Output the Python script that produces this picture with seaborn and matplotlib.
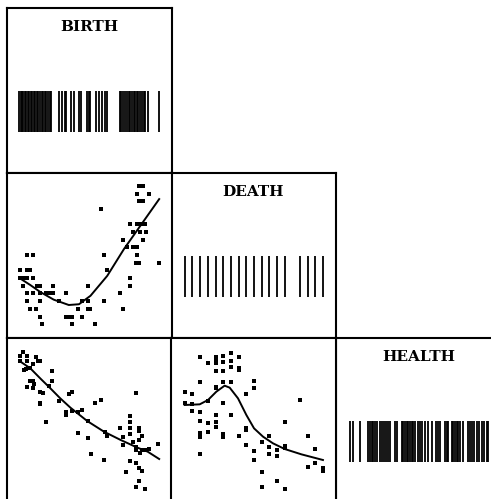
import numpy as np
import pandas as pd
import matplotlib
matplotlib.use("Agg")
import matplotlib.pyplot as plt
import seaborn as sns

# ---- data ----
# BIRTH vs DEATH scatter
bd_birth = [45.2, 46.4, 44.4, 48.3, 45.2, 46.4, 33.5, 42.5, 44.5, 45.7, 47.0,
            43.4, 45.4, 47.3, 40.4, 46.4, 41.4, 43.2, 44.4,
            11, 13, 34.5, 44.4, 44.2, 45.2, 51.1, 9, 11, 12, 35.5,
            9, 10, 11, 13, 42.4, 10, 14.1, 14.9, 18.9, 29.6, 42.4,
            11, 13, 14.9, 16.9, 17.9, 18.9, 22.9, 39.4,
            11, 14.9, 20.8, 27.7, 29.6, 34.5,
            12, 13.9, 26.7, 29.6, 30.4, 40.4,
            14.9, 22.9, 23.9, 24.7, 27.7, 15.8, 24.7, 31.7]
bd_death = [22, 22, 21, 21, 20, 20, 19, 17, 17, 17, 17,
            16, 16, 16, 15, 15, 14, 14, 14,
            13, 13, 13, 13, 12, 12, 12, 11, 11, 11, 11,
            10, 10, 10, 10, 10, 9, 9, 9, 9, 9, 9,
            8, 8, 8, 8, 8, 8, 8, 8,
            7, 7, 7, 7, 7, 7,
            6, 6, 6, 6, 6, 6,
            5, 5, 5, 5, 5, 4, 4, 4]
bd_fit_birth = [9.2, 12.1, 15.1, 19.2, 23.8, 26.9, 30.4, 35.5, 40.6, 45.7, 51.3]
bd_fit_death = [9.9, 9.1, 8.2, 7.2, 6.5, 6.6, 7.7, 10.3, 13.8, 16.9, 20.3]

# BIRTH vs HEALTH scatter
bh_birth = [10.0, 9.0, 11.0, 13.9, 9.0, 11.0, 14.3, 15.1, 12.9, 11.9, 10.2, 10.8,
            11.3, 18.7, 12.1, 12.9, 18.7, 13.1, 11.0, 12.9, 17.7, 14.9, 15.9,
            14.9, 14.9, 23.8, 24.8, 20.7, 31.7, 33.5, 44.2, 22.8, 22.8, 24.8,
            26.7, 27.7, 29.6, 16.9, 26.6, 29.6, 30.6, 34.5, 35.3, 34.7, 39.4,
            42.4, 42.4, 42.4, 40.4, 40.3, 42.4, 43.2, 44.2, 45.2, 45.2, 46.2,
            45.2, 44.2, 46.2, 47.1, 48.3, 51.0, 45.5, 44.2, 45.2, 42.5, 41.2,
            46.2, 45.2, 44.2, 47.1]
bh_health = [90.4, 88.2, 88.2, 87.6, 85.4, 85.4, 85.0, 85.0, 83.6, 80.8, 79.6, 80.2,
             80.8, 79.2, 73.4, 73.4, 73.2, 71.4, 69.4, 68.8, 70.4, 66.4, 65.8,
             60.2, 59.4, 65.2, 66.4, 61.2, 60.2, 61.8, 65.8, 54.8, 52.8, 55.2,
             54.8, 55.6, 49.2, 48.4, 41.8, 39.2, 29.2, 25.8, 40.4, 42.8, 45.2,
             52.4, 48.8, 45.2, 39.8, 34.8, 41.2, 36.4, 33.8, 45.2, 43.2, 40.4,
             37.8, 31.8, 31.8, 31.8, 32.4, 35.2, 29.8, 23.8, 21.2, 25.2, 18.6,
             19.2, 13.4, 9.8, 8.2]
bh_fit_birth = [8.8, 12.1, 15.1, 18.2, 21.2, 24.3, 29.4, 34.5, 39.6, 44.7, 47.8, 51.3]
bh_fit_health = [85.2, 80.8, 74.8, 68.8, 62.8, 57.2, 49.2, 42.8, 37.8, 33.2, 30.8, 26.4]

# DEATH vs HEALTH scatter
dh_death = [4, 4, 5, 5, 5, 6, 6, 6, 6, 6, 6, 6, 7, 7, 7, 7,
            8, 8, 8, 8, 8, 8, 8, 8, 8, 9, 9, 9, 9, 9, 9, 9,
            10, 10, 10, 10, 10, 11, 11, 11, 11, 12, 12, 12, 12,
            13, 13, 13, 13, 14, 14, 14, 15, 15, 15, 16, 16, 16,
            17, 17, 17, 17, 19, 20, 20, 21, 21, 22, 22]
dh_health = [66.4, 60.2, 65.2, 59.6, 55.2, 87.4, 72.8, 54.8, 49.4, 41.8, 39.8, 29.2,
             84.2, 61.2, 48.2, 42.8,
             87.8, 85.2, 83.8, 79.2, 69.8, 68.8, 52.8, 48.4, 45.4,
             88.4, 84.8, 79.2, 72.8, 60.2, 41.2, 39.8,
             90.2, 85.2, 81.4, 72.8, 52.8, 87.8, 80.8, 79.8, 40.4,
             65.6, 45.2, 43.8, 34.8, 73.4, 69.2, 31.2, 25.8,
             36.4, 18.4, 9.4, 40.4, 33.8, 29.2, 31.8, 28.2, 13.4,
             48.8, 34.4, 33.2, 8.2, 61.8, 40.4, 21.6, 32.2, 23.8, 21.2, 19.2]
dh_fit_death = [3.98, 5.94, 7.02, 8.11, 9.19, 9.85, 10.93, 12.02, 13.02, 14.19,
                15.49, 17.01, 19.19, 22.0]
dh_fit_health = [58.8, 59.2, 61.8, 66.8, 70.4, 69.2, 62.8, 52.8, 44.8, 39.8,
                 35.8, 32.4, 29.2, 25.8]

# rug values on the diagonal
birth_rug = [8.7, 9.2, 9.6, 10.0, 10.5, 10.9, 11.3, 11.8, 12.2, 12.7, 13.1, 13.6,
             14.0, 14.5, 15.0, 15.5, 16.0, 16.5, 17.0, 17.5, 18.0, 18.5,
             20.7, 21.8, 22.5, 23.1, 24.5, 25.3, 26.9, 27.6, 29.4, 29.9, 30.4,
             32.0, 33.0, 34.0, 34.7, 35.3,
             39.4, 39.8, 40.3, 40.8, 41.4, 42.0, 42.5, 43.0, 43.5, 44.0, 44.5,
             45.0, 45.5, 46.0, 46.6, 47.1, 47.8, 51.1]
death_rug = [4, 5, 6, 7, 8, 9, 10, 11, 12, 13, 14, 15, 16, 17, 19, 20, 21, 22]
health_rug = [8.4, 10.4, 14.4, 19.4, 20.4, 21.4, 22.4, 23.4, 24.4, 26.4, 27.4,
              28.8, 29.8, 31.4, 32.4, 35.4, 36.4, 39.4, 40.4, 41.4, 42.4, 43.4,
              44.4, 45.4, 46.4, 47.4, 49.0, 50.4, 51.4, 53.4, 55.0, 57.4, 59.8,
              61.0, 62.4, 65.4, 66.4, 67.4, 69.4, 70.4, 71.4, 72.4, 73.4, 74.4,
              76.4, 79.4, 80.4, 81.4, 83.0, 84.4, 85.8, 87.4, 89.0, 90.4, 91.4]

names = ["BIRTH", "DEATH", "HEALTH"]
limits = {"BIRTH": (5.0, 55.2), "DEATH": (2.2, 23.7), "HEALTH": (0, 99)}
rugs = {"BIRTH": birth_rug, "DEATH": death_rug, "HEALTH": health_rug}

W, H = 491, 499
fig = plt.figure(figsize=(W / 100, H / 100), dpi=100)

col_left = [7, 171, 336]
row_top = [8, 173, 338]
size = 165


def panel(row, col):
    ax = fig.add_axes([col_left[col] / W, 1 - (row_top[row] + size) / H,
                       size / W, size / H])
    ax.set_xticks([])
    ax.set_yticks([])
    for sp in ax.spines.values():
        sp.set_linewidth(1.5)
        sp.set_color("black")
    return ax


# diagonal: title + rug
for i, name in enumerate(names):
    ax = panel(i, i)
    ax.set_xlim(limits[name])
    ax.set_ylim(0, 1)
    ax.vlines(rugs[name], 0.25, 0.5, color="black", linewidth=1.3)
    ax.text(0.5, 0.887, name, transform=ax.transAxes, ha="center", va="center",
            fontsize=11, fontweight="bold", family="DejaVu Serif")

# lower triangle scatter + smooth
pairs = [
    (1, 0, "BIRTH", "DEATH", bd_birth, bd_death, bd_fit_birth, bd_fit_death),
    (2, 0, "BIRTH", "HEALTH", bh_birth, bh_health, bh_fit_birth, bh_fit_health),
    (2, 1, "DEATH", "HEALTH", dh_death, dh_health, dh_fit_death, dh_fit_health),
]
for row, col, xn, yn, xs, ys, fx, fy in pairs:
    ax = panel(row, col)
    pts = pd.DataFrame({xn: xs, yn: ys})
    fit = pd.DataFrame({xn: fx, yn: fy})
    sns.scatterplot(data=pts, x=xn, y=yn, ax=ax, color="black", s=5,
                    linewidth=0, marker="s")
    sns.lineplot(data=fit, x=xn, y=yn, ax=ax, color="black", linewidth=1.4,
                 estimator=None, sort=False)
    ax.set_xlim(limits[xn])
    ax.set_ylim(limits[yn])
    ax.set_xlabel("")
    ax.set_ylabel("")
    ax.set_xticks([])
    ax.set_yticks([])

fig.savefig("out.png", dpi=100)
